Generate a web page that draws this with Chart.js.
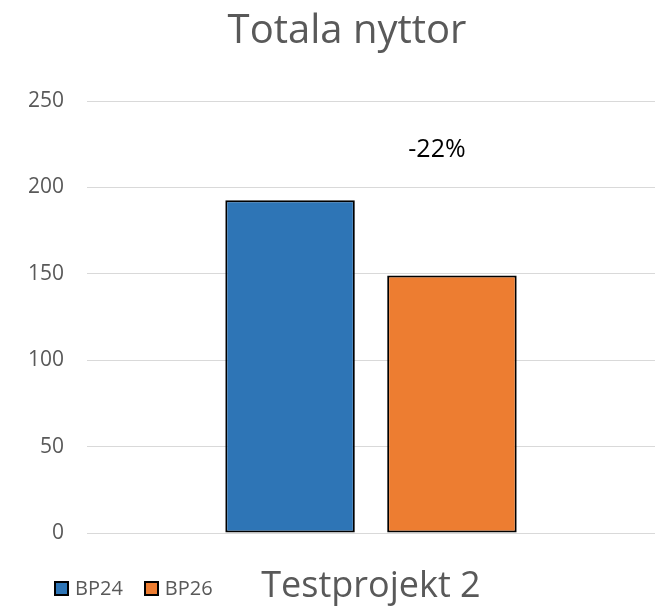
<!DOCTYPE html>
<html>
<head>
<meta charset="utf-8">
<script src="https://cdn.jsdelivr.net/npm/chart.js@4"></script>
<style>
  html, body { margin: 0; padding: 0; background: #fff; }
  #wrap { position: relative; width: 669px; height: 610px; }
  #title { position: absolute; left: 0; width: 694px; top: 4px; text-align: center; font: 40px/48px "Open Sans", sans-serif; color: #595959; }
  #legend { position: absolute; left: 54px; top: 576px; font: 20px/24px "Open Sans", sans-serif; color: #595959; display: flex; }
  #legend span.item { display: flex; align-items: center; margin-right: 21px; }
  #legend span.box { width: 11px; height: 11px; border: 2px solid #000; margin-right: 6px; display: inline-block; }
</style>
</head>
<body>
<div id="wrap">
  <canvas id="chart" width="669" height="610"></canvas>
  <div id="title">Totala nyttor</div>
  <div id="legend"></div>
</div>
<script>
// --- data ---
const categories = ['Testprojekt 2'];
const seriesNames = ['BP24', 'BP26'];
const bp24Values = [192.5];
const bp26Values = [149];
const seriesColors = ['#2e75b6', '#ed7d31'];
const changeLabel = '-22%';
const changeLabelValue = 222;   // y-value where the change text sits
const yTicks = [0, 50, 100, 150, 200, 250];

const FONT = '"Open Sans", sans-serif';

// small plugin: draws the change text above the second bar
const changeTextPlugin = {
    id: 'changeText',
    afterDatasetsDraw(chart) {
        const bar = chart.getDatasetMeta(1).data[0];
        const y = chart.scales.y.getPixelForValue(changeLabelValue);
        const ctx = chart.ctx;
        ctx.save();
        ctx.font = '25px ' + FONT;
        ctx.fillStyle = '#000';
        ctx.textAlign = 'center';
        ctx.textBaseline = 'middle';
        ctx.fillText(changeLabel, bar.x - 15, y);
        ctx.restore();
    }
};

new Chart(document.getElementById('chart'), {
    type: 'bar',
    data: {
        labels: categories,
        datasets: [
            { label: seriesNames[0], data: bp24Values, backgroundColor: seriesColors[0], borderColor: '#000', borderWidth: 2, borderSkipped: false },
            { label: seriesNames[1], data: bp26Values, backgroundColor: seriesColors[1], borderColor: '#000', borderWidth: 2, borderSkipped: false }
        ]
    },
    options: {
        responsive: false,
        animation: false,
        layout: { padding: { left: 0, right: 14, top: 101, bottom: 0 } },
        categoryPercentage: 0.57,
        barPercentage: 0.8,
        scales: {
            x: {
                afterFit: s => { s.height = 77; },
                grid: { display: false, drawTicks: false },
                border: { display: false },
                ticks: { color: '#595959', font: { size: 36, family: FONT }, padding: 32 }
            },
            y: {
                min: 0, max: 250,
                afterFit: s => { s.width = 87; },
                afterBuildTicks: axis => { axis.ticks = yTicks.map(v => ({ value: v })); },
                grid: { color: '#d9d9d9', lineWidth: 1, drawTicks: false },
                border: { display: false },
                ticks: { color: '#595959', font: { size: 21, family: FONT }, padding: 23 }
            }
        },
        plugins: {
            legend: { display: false },
            tooltip: { enabled: false },
            title: { display: false }
        }
    },
    plugins: [changeTextPlugin]
});

// html legend, bottom-left like the original
const legendEl = document.getElementById('legend');
seriesNames.forEach((name, i) => {
    const item = document.createElement('span');
    item.className = 'item';
    item.innerHTML = `<span class="box" style="background:${seriesColors[i]}"></span>${name}`;
    legendEl.appendChild(item);
});
</script>
</body>
</html>
